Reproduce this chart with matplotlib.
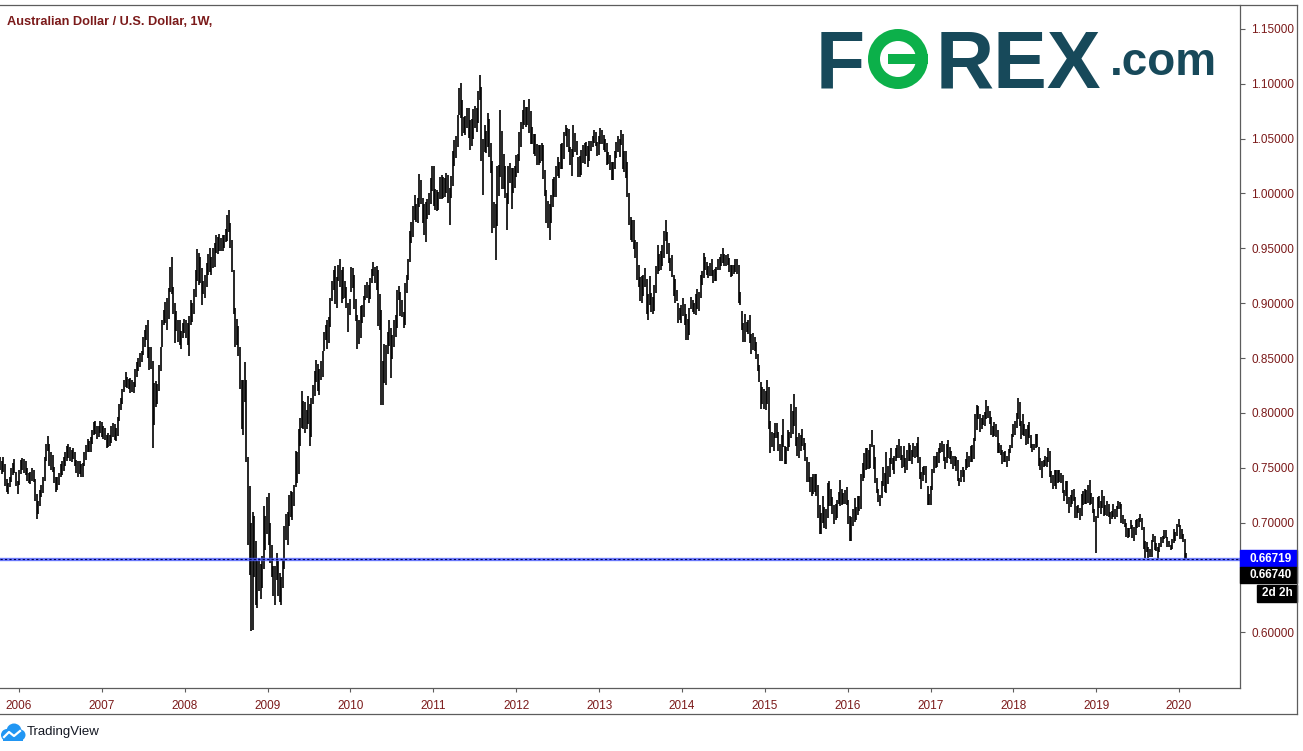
import datetime as dt

import matplotlib
matplotlib.use("Agg")
import matplotlib.dates as mdates
import matplotlib.pyplot as plt
import numpy as np
import pandas as pd
from matplotlib.lines import Line2D
from matplotlib.patches import Annulus, Circle, Rectangle

# weekly AUD/USD bars, low / high in 1e-4 units (one list per calendar year)
low_2005 = [7480, 7440, 7460, 7330, 7280, 7265, 7320, 7370, 7430, 7450, 7330, 7260]
high_2005 = [7600, 7560, 7600, 7530, 7400, 7360, 7420, 7500, 7540, 7580, 7460, 7380]

low_2006 = [7340, 7440, 7480, 7450, 7430, 7380, 7360, 7350, 7380, 7370, 7200, 7030, 7080,
            7150, 7230, 7270, 7380, 7560, 7650, 7520, 7480, 7460, 7360, 7280, 7300, 7340,
            7420, 7430, 7470, 7520, 7560, 7590, 7560, 7550, 7580, 7520, 7450, 7420, 7440,
            7420, 7420, 7520, 7570, 7640, 7640, 7640, 7720, 7800, 7810, 7760, 7780, 7820]
high_2006 = [7480, 7570, 7590, 7580, 7560, 7500, 7450, 7460, 7500, 7480, 7400, 7260, 7200,
             7300, 7340, 7420, 7600, 7720, 7790, 7720, 7640, 7620, 7510, 7420, 7420, 7450,
             7530, 7560, 7600, 7640, 7700, 7720, 7690, 7660, 7680, 7640, 7570, 7560, 7560,
             7530, 7540, 7640, 7710, 7760, 7740, 7780, 7840, 7920, 7930, 7880, 7880, 7930]

low_2007 = [7780, 7760, 7750, 7680, 7690, 7700, 7730, 7780, 7750, 7740, 7790, 7930, 8030,
            8080, 8190, 8240, 8230, 8220, 8180, 8190, 8180, 8240, 8330, 8380, 8420, 8460,
            8530, 8600, 8660, 8500, 8390, 8400, 7680, 7890, 8050, 8080, 8200, 8380, 8600,
            8800, 8820, 8760, 8860, 9100, 9080, 8900, 8640, 8750, 8650, 8620, 8580, 8680, 8730]
high_2007 = [7920, 7880, 7860, 7800, 7820, 7800, 7880, 7910, 7900, 7860, 7960, 8080, 8140,
             8220, 8300, 8370, 8330, 8310, 8320, 8300, 8280, 8400, 8460, 8500, 8550, 8560,
             8690, 8760, 8800, 8850, 8600, 8600, 8470, 8270, 8290, 8260, 8440, 8600, 8850,
             8940, 9010, 9050, 9140, 9330, 9420, 9150, 9000, 8930, 8850, 8850, 8750, 8820, 8860]

low_2008 = [8680, 8620, 8520, 8800, 8830, 8900, 9060, 9200, 9170, 9180, 8980, 9080, 9050,
            9150, 9260, 9280, 9260, 9320, 9330, 9460, 9450, 9480, 9480, 9480, 9500, 9560,
            9570, 9650, 9500, 9280, 8900, 8600, 8620, 8520, 8220, 7850, 7800, 8100, 7550,
            6800, 6520, 6010, 6020, 6500, 6250, 6220, 6380, 6300, 6400, 6580, 6750, 6900]
high_2008 = [8850, 8820, 8880, 9030, 9000, 9130, 9300, 9490, 9460, 9420, 9320, 9200, 9260,
             9370, 9450, 9500, 9420, 9500, 9550, 9620, 9600, 9630, 9590, 9620, 9620, 9680,
             9800, 9850, 9730, 9580, 9300, 8960, 8860, 8790, 8600, 8300, 8300, 8460, 8300,
             7600, 7330, 7000, 7100, 7060, 6830, 6650, 6680, 6620, 6700, 7150, 7060, 7230]

low_2009 = [6800, 6630, 6500, 6330, 6250, 6480, 6330, 6280, 6250, 6400, 6580, 6840, 6800,
            6970, 7050, 7020, 7150, 7320, 7360, 7440, 7700, 7860, 7850, 7820, 7850, 7900,
            7700, 7780, 8080, 8150, 8280, 8200, 8160, 8300, 8330, 8560, 8660, 8580, 8640,
            8780, 9020, 9120, 8990, 8960, 9200, 9150, 9000, 9040, 9050, 8960, 8740, 8890]
high_2009 = [7270, 7000, 6800, 6600, 6600, 6720, 6650, 6540, 6500, 6660, 6970, 7080, 7100,
             7250, 7290, 7280, 7340, 7650, 7640, 7850, 7950, 8200, 8110, 8100, 8030, 8150,
             8080, 8140, 8250, 8380, 8480, 8450, 8400, 8470, 8560, 8740, 8800, 8850, 8870,
             9050, 9200, 9300, 9340, 9240, 9350, 9400, 9300, 9330, 9200, 9150, 9000, 9040]

low_2010 = [9100, 9140, 8950, 8840, 8580, 8630, 8680, 8820, 8870, 9030, 9050, 9000, 9040,
            9180, 9250, 9180, 9120, 8790, 8760, 8070, 8070, 8270, 8250, 8540, 8610, 8320,
            8490, 8600, 8690, 8770, 9030, 8880, 8870, 8770, 8800, 9090, 9210, 9380, 9550,
            9600, 9760, 9740, 9730, 9880, 9900, 9730, 9620, 9560, 9770, 9800, 9900, 10020]
high_2010 = [9330, 9320, 9260, 9040, 8890, 8850, 8970, 8980, 9070, 9170, 9190, 9170, 9230,
             9310, 9380, 9330, 9340, 9300, 9080, 8940, 8470, 8630, 8620, 8740, 8850, 8770,
             8710, 8850, 8890, 9120, 9160, 9100, 9030, 8920, 9180, 9260, 9400, 9660, 9740,
             9890, 9990, 9900, 9960, 10180, 10120, 9960, 9900, 9920, 9950, 10000, 10140, 10250]

low_2011 = [9890, 9850, 9840, 9850, 9950, 9950, 9960, 9970, 10000, 9910, 9710, 9960, 10070,
            10250, 10320, 10420, 10720, 10690, 10520, 10550, 10530, 10600, 10510, 10400,
            10430, 10500, 10600, 10560, 10640, 10850, 10300, 9990, 10380, 10370, 10420,
            10330, 10190, 9640, 9690, 9390, 9700, 9980, 10150, 10040, 10040, 9960, 9670,
            9900, 10100, 9860, 10000, 10050]
high_2011 = [10250, 10040, 10030, 10010, 10150, 10170, 10150, 10140, 10190, 10170, 10050,
             10160, 10390, 10490, 10520, 10720, 10960, 11010, 10850, 10700, 10710, 10780,
             10780, 10670, 10680, 10770, 10800, 10780, 10930, 11080, 10970, 10500, 10620,
             10570, 10730, 10680, 10460, 10300, 9920, 9900, 10250, 10260, 10760, 10570,
             10360, 10250, 10000, 10250, 10280, 10230, 10230, 10250]

low_2012 = [10150, 10190, 10300, 10420, 10590, 10620, 10610, 10620, 10550, 10450, 10450,
            10360, 10340, 10260, 10260, 10280, 10300, 10130, 9980, 9730, 9690, 9580, 9730,
            9880, 9970, 9970, 10160, 10140, 10220, 10220, 10310, 10520, 10420, 10380, 10260,
            10160, 10330, 10380, 10350, 10150, 10150, 10170, 10280, 10270, 10340, 10240,
            10300, 10390, 10420, 10460, 10430, 10340, 10350]
high_2012 = [10350, 10360, 10560, 10650, 10760, 10850, 10790, 10790, 10860, 10750, 10610,
             10540, 10540, 10450, 10440, 10440, 10460, 10440, 10210, 10030, 9930, 9900, 9990,
             10130, 10150, 10250, 10330, 10290, 10450, 10460, 10560, 10620, 10600, 10590,
             10420, 10410, 10620, 10550, 10480, 10330, 10340, 10400, 10440, 10460, 10470,
             10430, 10480, 10480, 10520, 10580, 10560, 10470, 10520]

low_2013 = [10450, 10450, 10400, 10380, 10260, 10270, 10210, 10120, 10120, 10220, 10320,
            10380, 10330, 10440, 10220, 10200, 10140, 9970, 9710, 9580, 9560, 9490, 9410,
            9210, 9150, 9020, 9000, 9070, 9150, 8900, 8850, 8980, 8920, 8900, 8930, 9090,
            9270, 9290, 9300, 9340, 9410, 9570, 9450, 9370, 9290, 9240, 9070, 9000, 9020,
            8820, 8850, 8820]
high_2013 = [10600, 10580, 10530, 10500, 10460, 10380, 10350, 10290, 10290, 10390, 10470,
             10520, 10500, 10580, 10540, 10390, 10390, 10290, 10000, 9790, 9760, 9760, 9580,
             9560, 9350, 9240, 9250, 9260, 9320, 9220, 9080, 9250, 9090, 9060, 9170, 9340,
             9530, 9450, 9480, 9530, 9660, 9760, 9650, 9550, 9410, 9440, 9260, 9220, 9120,
             9000, 8960, 8980]

low_2014 = [8880, 8800, 8660, 8660, 8710, 8950, 8920, 8900, 8890, 8950, 8930, 9050, 9170,
            9230, 9300, 9260, 9230, 9250, 9250, 9180, 9200, 9200, 9300, 9300, 9340, 9370,
            9340, 9340, 9350, 9280, 9240, 9250, 9270, 9280, 9270, 9000, 8980, 8760, 8650,
            8650, 8740, 8720, 8640, 8540, 8570, 8560, 8490, 8380, 8280, 8040, 8080, 8040]
high_2014 = [9050, 8990, 8900, 8860, 8960, 9060, 9030, 9000, 9080, 9130, 9100, 9260, 9290,
             9460, 9420, 9380, 9340, 9370, 9400, 9300, 9310, 9330, 9400, 9420, 9450, 9500,
             9450, 9440, 9450, 9410, 9350, 9350, 9350, 9400, 9400, 9350, 9100, 8930, 8820,
             8900, 8830, 8850, 8890, 8720, 8730, 8690, 8650, 8540, 8440, 8280, 8240, 8220]

low_2015 = [8030, 8080, 7850, 7630, 7690, 7650, 7770, 7770, 7650, 7560, 7560, 7690, 7530,
            7530, 7650, 7690, 7770, 7810, 7880, 7700, 7610, 7590, 7650, 7700, 7660, 7560,
            7370, 7370, 7280, 7240, 7260, 7280, 7240, 7040, 6900, 6900, 7000, 6950, 6940,
            7040, 7150, 7150, 7080, 6990, 7020, 7040, 7170, 7150, 7160, 7170, 7170, 7160]
high_2015 = [8200, 8300, 8240, 7930, 7830, 7820, 7910, 7910, 7830, 7720, 7800, 7940, 7700,
             7690, 7840, 7830, 8080, 8020, 8170, 8050, 7780, 7820, 7800, 7850, 7770, 7730,
             7600, 7550, 7420, 7420, 7440, 7440, 7440, 7340, 7160, 7090, 7240, 7140, 7120,
             7360, 7380, 7310, 7230, 7160, 7170, 7210, 7280, 7390, 7310, 7270, 7300, 7320]

low_2016 = [6990, 6830, 6830, 6970, 7010, 7020, 7070, 7110, 7120, 7380, 7410, 7480, 7490,
            7490, 7500, 7690, 7490, 7360, 7270, 7190, 7150, 7220, 7330, 7280, 7270, 7350,
            7420, 7530, 7480, 7440, 7560, 7590, 7590, 7570, 7500, 7510, 7450, 7480, 7560,
            7560, 7530, 7600, 7590, 7600, 7540, 7400, 7310, 7380, 7430, 7360, 7160, 7160]
high_2016 = [7210, 7060, 7050, 7120, 7220, 7140, 7240, 7240, 7440, 7540, 7630, 7680, 7680,
             7660, 7720, 7840, 7710, 7600, 7410, 7310, 7250, 7380, 7510, 7450, 7640, 7520,
             7590, 7680, 7590, 7610, 7680, 7710, 7760, 7700, 7620, 7700, 7590, 7660, 7730,
             7710, 7660, 7730, 7700, 7730, 7780, 7600, 7460, 7510, 7520, 7520, 7330, 7260]

low_2017 = [7160, 7300, 7450, 7500, 7510, 7540, 7630, 7640, 7560, 7490, 7540, 7590, 7580,
            7530, 7490, 7520, 7470, 7380, 7330, 7370, 7420, 7370, 7480, 7500, 7510, 7550,
            7550, 7580, 7740, 7840, 7940, 7830, 7850, 7890, 7880, 7940, 7950, 7900, 7800,
            7780, 7790, 7780, 7630, 7630, 7620, 7530, 7550, 7550, 7510, 7560, 7630, 7680]
high_2017 = [7330, 7490, 7610, 7610, 7640, 7680, 7730, 7740, 7720, 7600, 7720, 7750, 7690,
             7650, 7610, 7610, 7600, 7570, 7410, 7480, 7510, 7480, 7580, 7640, 7610, 7700,
             7710, 7770, 7990, 8070, 8060, 7990, 7950, 7980, 8010, 8120, 8060, 8020, 7960,
             7880, 7920, 7900, 7840, 7730, 7710, 7660, 7640, 7650, 7610, 7670, 7710, 7810]

low_2018 = [7780, 7800, 7860, 7940, 7880, 7760, 7800, 7790, 7710, 7720, 7770, 7680, 7640,
            7660, 7680, 7690, 7520, 7480, 7410, 7510, 7520, 7510, 7550, 7420, 7360, 7310,
            7330, 7310, 7360, 7370, 7360, 7270, 7200, 7240, 7170, 7090, 7140, 7170, 7200,
            7040, 7040, 7090, 7020, 7060, 7160, 7170, 7170, 7180, 7160, 7170, 7090, 7010, 6720]
high_2018 = [7900, 7930, 8000, 8140, 8100, 7930, 7990, 7900, 7850, 7890, 7920, 7800, 7720,
             7720, 7810, 7810, 7690, 7590, 7560, 7570, 7610, 7600, 7680, 7650, 7470, 7430,
             7480, 7480, 7480, 7480, 7450, 7430, 7300, 7380, 7380, 7230, 7250, 7300, 7310,
             7230, 7150, 7160, 7130, 7260, 7290, 7310, 7300, 7340, 7390, 7270, 7230, 7120, 7060]

low_2019 = [7040, 7130, 7080, 7130, 7060, 7070, 7060, 7050, 6990, 7030, 7050, 7030, 7050,
            7120, 7120, 7000, 6990, 6960, 6870, 6860, 6870, 6940, 6860, 6830, 6890, 6950,
            6960, 7010, 6930, 6760, 6680, 6730, 6680, 6690, 6690, 6820, 6750, 6740, 6670,
            6730, 6780, 6810, 6850, 6860, 6780, 6780, 6750, 6760, 6810, 6830, 6880, 6960]
high_2019 = [7230, 7240, 7200, 7300, 7240, 7160, 7200, 7170, 7100, 7110, 7170, 7120, 7150,
             7200, 7190, 7170, 7070, 7030, 7000, 6950, 6950, 7020, 6980, 6960, 7020, 7030,
             7040, 7080, 7040, 6960, 6830, 6820, 6780, 6760, 6840, 6900, 6880, 6810, 6780,
             6810, 6870, 6880, 6930, 6930, 6870, 6830, 6800, 6850, 6940, 6910, 6990, 7030]

low_2020 = [6850, 6850, 6820, 6660, 6665]
high_2020 = [6980, 6940, 6900, 6850, 6720]

last_price = 0.66719
close_price = 0.66740
time_left = "2d 2h"
price_ticks = [0.60, 0.70, 0.75, 0.80, 0.85, 0.90, 0.95, 1.00, 1.05, 1.10, 1.15]
year_ticks = list(range(2006, 2021))
title = "Australian Dollar / U.S. Dollar, 1W,"

lows = np.concatenate([low_2005, low_2006, low_2007, low_2008, low_2009, low_2010,
                       low_2011, low_2012, low_2013, low_2014, low_2015, low_2016,
                       low_2017, low_2018, low_2019, low_2020]) / 10000
highs = np.concatenate([high_2005, high_2006, high_2007, high_2008, high_2009, high_2010,
                        high_2011, high_2012, high_2013, high_2014, high_2015, high_2016,
                        high_2017, high_2018, high_2019, high_2020]) / 10000
dates = pd.date_range(end="2020-02-03", periods=len(lows), freq="W-MON")

W, H = 1303, 751
RED = "#7b1a1a"
GRID = "#5c5c5c"
plt.rcParams["font.family"] = ["Liberation Sans", "DejaVu Sans"]


def fx(x):
    return x / W


def fy(y):
    return 1 - y / H


fig = plt.figure(figsize=(W / 100, H / 100), dpi=100)
ax = fig.add_axes([0, fy(688), fx(1240), (688 - 5) / H])

ax.vlines(mdates.date2num(dates), lows, highs, color="black", lw=1.2)

# price line
ax.axhline(last_price, color="#4a5cff", lw=2.4, alpha=0.8)
ax.axhline(last_price, color="#000050", lw=0.8, ls=(0, (2, 2)))

# x scale: year ticks measured on the reference
t06 = mdates.date2num(dt.datetime(2006, 1, 1))
t20 = mdates.date2num(dt.datetime(2020, 1, 1))
ppd = (1179 - 19) / (t20 - t06)
ax.set_xlim(t06 - 19 / ppd, t06 + (1240 - 19) / ppd)
ax.set_xticks([mdates.date2num(dt.datetime(y, 1, 1)) for y in year_ticks])
ax.set_xticklabels([str(y) for y in year_ticks])

ppu = 1097
ax.set_ylim(0.60 - (688 - 632.3) / ppu, 0.60 + (632.3 - 5) / ppu)
ax.yaxis.tick_right()
ax.set_yticks(price_ticks)
ax.set_yticklabels([f"{v:.5f}" for v in price_ticks])

ax.tick_params(axis="x", direction="out", length=3, width=0.8, color=GRID,
               labelcolor=RED, labelsize=8.5, pad=5.5)
ax.tick_params(axis="y", direction="out", length=3.5, width=0.8, color=GRID,
               labelcolor=RED, labelsize=8.5, pad=4.5)

ax.spines["left"].set_visible(False)
ax.spines["top"].set_visible(False)
for s in ("bottom", "right"):
    ax.spines[s].set_color(GRID)
    ax.spines[s].set_linewidth(0.9)

# frame lines outside the axes
fig.add_artist(Line2D([0, fx(1297)], [fy(5), fy(5)], color=GRID, lw=0.9))
fig.add_artist(Line2D([0, fx(1297)], [fy(714), fy(714)], color=GRID, lw=0.9))
fig.add_artist(Line2D([fx(1297), fx(1297)], [fy(5), fy(714)], color=GRID, lw=0.9))

# title
fig.text(fx(7), fy(22), title, color=RED, fontsize=9.2, weight="bold", va="center")

# right-hand price labels
fig.add_artist(Rectangle((fx(1240), fy(567)), fx(57), 17 / H, color="#0000ff",
                         transform=fig.transFigure))
fig.text(fx(1249), fy(558.5), f"{last_price:.5f}", color="white", fontsize=8.5,
         weight="bold", va="center")
fig.add_artist(Rectangle((fx(1240), fy(583)), fx(57), 16 / H, color="black",
                         transform=fig.transFigure))
fig.text(fx(1249), fy(575.5), f"{close_price:.5f}", color="white", fontsize=8.5,
         weight="bold", va="center")
fig.add_artist(Rectangle((fx(1257), fy(602)), fx(40), 17 / H, color="black",
                         transform=fig.transFigure))
fig.text(fx(1277), fy(593.5), time_left, color="white", fontsize=8.5, weight="bold",
         va="center", ha="center")

# FOREX.com logo, drawn in an axes that uses pixel coordinates
TEAL = "#17495a"
GREEN = "#0cb04a"
lax = fig.add_axes([fx(800), fy(100), fx(430), 80 / H])
lax.set_xlim(800, 1230)
lax.set_ylim(100, 20)
lax.axis("off")
logo = dict(fontsize=58, weight="bold", va="baseline", family="Liberation Sans")
lax.text(816, 88, "F", color=TEAL, **logo)
lax.add_patch(Annulus((898, 59), 30, 12, color=GREEN, lw=0))
lax.add_patch(Rectangle((888, 54), 40, 10, color=GREEN, lw=0))
lax.text(936, 88, "REX", color=TEAL, **logo)
lax.text(1110, 75, ".com", color=TEAL, fontsize=33, weight="bold", va="baseline",
         family="Liberation Sans")

# TradingView footer
iax = fig.add_axes([fx(0), fy(743), fx(26), 22 / H])
iax.set_xlim(0, 26)
iax.set_ylim(0, 22)
iax.set_aspect("equal")
iax.axis("off")
for cx, cy, r in [(7, 8, 6), (14, 12, 7.5), (20, 8, 5.5)]:
    iax.add_patch(Circle((cx, cy), r, color="#2196f3", lw=0))
iax.add_patch(Rectangle((3, 2), 20, 6, color="#2196f3", lw=0))
iax.plot([4, 9, 14, 20], [6, 11, 7, 12], color="white", lw=1.6)
fig.text(fx(27), fy(732), "TradingView", color="#131722", fontsize=9.5, va="center")

fig.savefig("out.png", dpi=100)
